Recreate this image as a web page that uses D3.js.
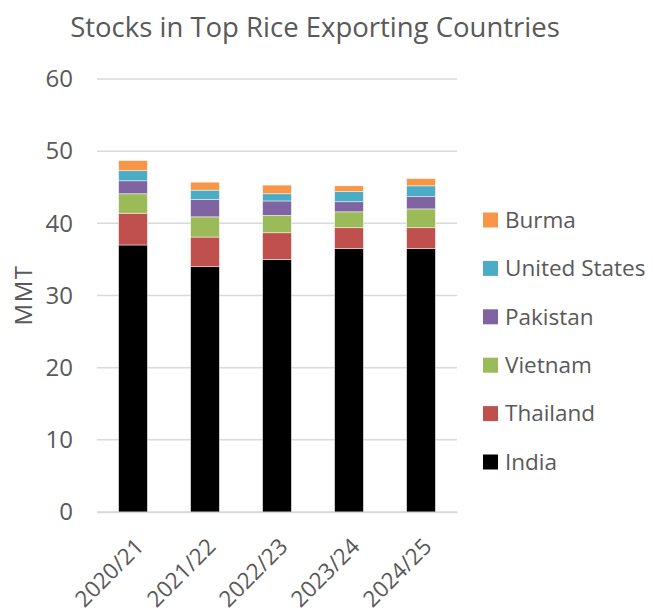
<!DOCTYPE html>
<html><head><meta charset="utf-8">
<script src="https://cdn.jsdelivr.net/npm/d3@7"></script>
<style>body{margin:0;background:#fff;} svg{display:block;font-family:"Open Sans",sans-serif;}</style>
</head><body>
<svg id="chart" width="653" height="610"></svg>
<script>
const categories = ["2020/21","2021/22","2022/23","2023/24","2024/25"];
const seriesNames = ["India","Thailand","Vietnam","Pakistan","United States","Burma"];
const india    = [37.0, 34.0, 35.0, 36.5, 36.5];
const thailand = [4.4, 4.1, 3.7, 2.9, 2.9];
const vietnam  = [2.7, 2.8, 2.4, 2.2, 2.6];
const pakistan = [1.8, 2.4, 2.0, 1.4, 1.7];
const unitedStates = [1.4, 1.3, 1.0, 1.4, 1.5];
const burma    = [1.4, 1.1, 1.2, 0.8, 1.0];
const yTicks = [0,10,20,30,40,50,60];
const colors = ["#000000","#C0504D","#9BBB59","#8064A2","#4BACC6","#F79646"];

const seriesVals = [india, thailand, vietnam, pakistan, unitedStates, burma];
const table = categories.map((c,i)=>{const o={cat:c}; seriesNames.forEach((s,j)=>o[s]=seriesVals[j][i]); return o;});

const svg = d3.select("#chart");
const x = d3.scaleBand().domain(categories).range([97,457]).paddingInner(0.6).paddingOuter(0.3);
const y = d3.scaleLinear().domain([0,60]).range([512,79]);
const color = d3.scaleOrdinal().domain(seriesNames).range(colors);

// gridlines
svg.append("g").selectAll("line").data(yTicks).join("line")
  .attr("x1",97).attr("x2",457).attr("y1",d=>y(d)).attr("y2",d=>y(d))
  .attr("stroke","#d9d9d9").attr("stroke-width",1.5);

// y axis labels
const yAxis = d3.axisLeft(y).tickValues(yTicks).tickSize(0).tickPadding(0);
const gy = svg.append("g").attr("transform","translate(73,0)").call(yAxis);
gy.select(".domain").remove();
gy.selectAll("text").attr("font-size",24).attr("fill","#595959").attr("font-family","Open Sans, sans-serif");

// stacks
const stack = d3.stack().keys(seriesNames)(table);
svg.append("g").selectAll("g").data(stack).join("g")
  .attr("fill",d=>color(d.key))
  .selectAll("rect").data(d=>d).join("rect")
  .attr("x",d=>x(d.data.cat)).attr("width",x.bandwidth())
  .attr("y",d=>y(d[1])).attr("height",d=>y(d[0])-y(d[1]))
  .attr("stroke","#ffffff").attr("stroke-opacity",0.6).attr("stroke-width",0.8);

// x axis
const xAxis = d3.axisBottom(x).tickSize(0).tickPadding(0);
const gx = svg.append("g").attr("transform","translate(0,512)").call(xAxis);
gx.select(".domain").attr("stroke","#d9d9d9").attr("stroke-width",1.5);
gx.selectAll("text").attr("font-size",22.5).attr("fill","#595959").attr("font-family","Open Sans, sans-serif")
  .attr("text-anchor","end").attr("dy",null).attr("y",0)
  .attr("transform","translate(12,36) rotate(-45)");

// title
svg.append("text").attr("x",315).attr("y",37).attr("text-anchor","middle")
  .attr("font-size",27.5).attr("fill","#595959").text("Stocks in Top Rice Exporting Countries");

// y label
svg.append("text").attr("transform","translate(32,295) rotate(-90)").attr("text-anchor","middle")
  .attr("font-size",24).attr("letter-spacing",1.5).attr("fill","#595959").text("MMT");

// legend
const legendOrder = seriesNames.slice().reverse();
const lg = svg.append("g").selectAll("g").data(legendOrder).join("g")
  .attr("transform",(d,i)=>`translate(483,${220+i*48.4})`);
lg.append("rect").attr("x",0).attr("y",-7.5).attr("width",15).attr("height",15).attr("fill",d=>color(d));
lg.append("text").attr("x",22).attr("y",0).attr("dy","0.35em").attr("font-size",22.5).attr("fill","#595959").text(d=>d);
</script>
</body></html>
